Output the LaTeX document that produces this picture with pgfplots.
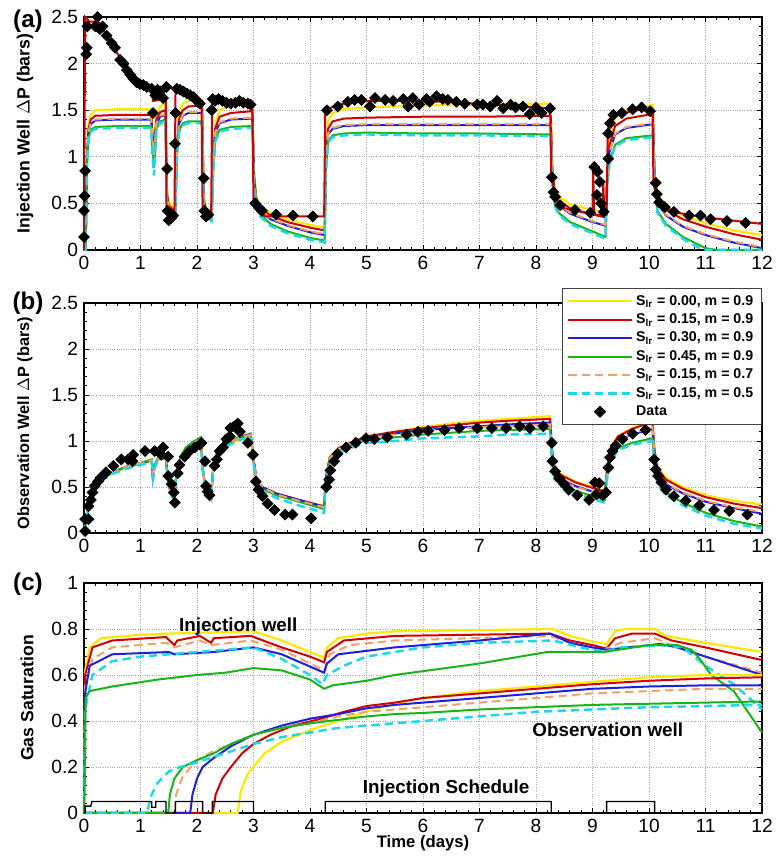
\documentclass[border=0pt]{standalone}
\usepackage{fontspec}
\setmainfont{Liberation Sans}
\usepackage{pgfplots}
\pgfplotsset{compat=1.18}
\definecolor{cY}{RGB}{255,232,0}
\definecolor{cR}{RGB}{210,0,0}
\definecolor{cB}{RGB}{30,30,225}
\definecolor{cG}{RGB}{25,180,25}
\definecolor{cO}{RGB}{245,160,100}
\definecolor{cC}{RGB}{30,215,235}
\pgfplotsset{
  myaxis/.style={
    scale only axis, width=406.8pt, anchor=south west,
    xmin=0, xmax=12, xtick={0,...,12},
    grid=major, grid style={densely dotted, gray!70, line width=0.5pt},
    minor x tick num=4, minor y tick num=4,
    tick align=inside, major tick length=3pt, minor tick length=1.8pt,
    tick style={black, line width=0.5pt},
    axis line style={black, line width=0.9pt},
    ticklabel style={font=\fontsize{11.5}{13}\selectfont},
    /pgf/number format/assume math mode=true,
    ylabel style={font=\bfseries\fontsize{10.6}{12}\selectfont, at={(axis description cs:-0.087,0.5)}, anchor=center},
    clip=false,
    legend image code/.code={\draw[mark repeat=2,mark phase=2] plot coordinates {(0pt,0pt) (19pt,0pt) (38pt,0pt)};},
  },
  sY/.style={cY, line width=1.3pt},
  sR/.style={cR, line width=1.2pt},
  sB/.style={cB, line width=1.2pt},
  sG/.style={cG, line width=1.2pt},
  sO/.style={cO, line width=1.2pt, dash pattern=on 5pt off 3pt},
  sC/.style={cC, line width=1.5pt, dash pattern=on 5pt off 3pt},
  sD/.style={only marks, mark=square*, mark size=2.3pt, mark options={rotate=45, fill=black, draw=black}},
}
\begin{document}
\begin{tikzpicture}
\useasboundingbox (0,0) rectangle (470.4pt,514.8pt);
% ---------------- (a)
\begin{axis}[myaxis, at={(50.4pt,364.8pt)}, height=139.8pt,
  ymin=0, ymax=2.5, ytick={0,0.5,...,2.5},
  ylabel={Injection Well $\Delta$P (bars)}]
\addplot[sY] coordinates {(0,0)(0.03,0)(0.05,1.0)(0.08,1.35)(0.12,1.45)(0.2,1.5)(0.6,1.51)(1.19,1.51)(1.21,1.3)(1.24,1.18)(1.28,1.45)(1.35,1.54)(1.44,1.57)(1.47,0.65)(1.5,0.52)(1.6,0.45)(1.62,0.5)(1.64,1.1)(1.68,1.45)(1.75,1.57)(1.85,1.6)(2.09,1.61)(2.12,0.6)(2.16,0.45)(2.26,0.4)(2.28,0.9)(2.32,1.35)(2.4,1.5)(2.6,1.55)(2.98,1.57)(3.01,0.85)(3.05,0.58)(3.12,0.47)(3.3,0.4)(3.6,0.33)(4.0,0.27)(4.26,0.24)(4.28,1.0)(4.32,1.38)(4.4,1.47)(4.6,1.51)(5,1.53)(6,1.55)(7,1.56)(8.26,1.57)(8.29,0.9)(8.33,0.68)(8.4,0.58)(8.6,0.49)(9.0,0.43)(9.23,0.4)(9.26,0.85)(9.3,1.2)(9.4,1.42)(9.6,1.5)(10.07,1.56)(10.1,0.85)(10.15,0.6)(10.3,0.47)(10.6,0.37)(11,0.29)(11.5,0.21)(12,0.16)};
\addplot[sR] coordinates {(0,0)(0.03,0)(0.05,0.95)(0.08,1.3)(0.12,1.4)(0.2,1.44)(0.6,1.45)(1.19,1.45)(1.21,1.25)(1.24,1.1)(1.28,1.4)(1.35,1.48)(1.44,1.5)(1.47,0.6)(1.5,0.48)(1.6,0.42)(1.62,0.45)(1.64,1.05)(1.68,1.4)(1.75,1.5)(1.85,1.54)(2.09,1.55)(2.12,0.55)(2.16,0.42)(2.26,0.37)(2.28,0.85)(2.32,1.3)(2.4,1.43)(2.6,1.47)(2.98,1.49)(3.01,0.8)(3.05,0.55)(3.12,0.45)(3.3,0.37)(3.6,0.3)(4.0,0.24)(4.26,0.21)(4.28,0.95)(4.32,1.3)(4.4,1.38)(4.6,1.41)(5,1.42)(6,1.43)(7,1.43)(8.26,1.44)(8.29,0.85)(8.33,0.63)(8.4,0.53)(8.6,0.45)(9.0,0.38)(9.23,0.35)(9.26,0.8)(9.3,1.12)(9.4,1.33)(9.6,1.41)(10.07,1.46)(10.1,0.8)(10.15,0.56)(10.3,0.43)(10.6,0.33)(11,0.25)(11.5,0.17)(12,0.11)};
\addplot[sB] coordinates {(0,0)(0.03,0)(0.05,0.92)(0.08,1.26)(0.12,1.35)(0.2,1.39)(0.6,1.4)(1.19,1.4)(1.21,1.2)(1.24,1.0)(1.28,1.35)(1.35,1.43)(1.44,1.45)(1.47,0.55)(1.5,0.45)(1.6,0.39)(1.62,0.42)(1.64,1.0)(1.68,1.35)(1.75,1.44)(1.85,1.47)(2.09,1.47)(2.12,0.5)(2.16,0.39)(2.26,0.35)(2.28,0.8)(2.32,1.25)(2.4,1.36)(2.6,1.4)(2.98,1.41)(3.01,0.75)(3.05,0.52)(3.12,0.42)(3.3,0.33)(3.6,0.26)(4.0,0.19)(4.26,0.16)(4.28,0.9)(4.32,1.24)(4.4,1.3)(4.6,1.33)(5,1.34)(6,1.34)(7,1.34)(8.26,1.34)(8.29,0.8)(8.33,0.58)(8.4,0.48)(8.6,0.39)(9.0,0.3)(9.23,0.26)(9.26,0.75)(9.3,1.05)(9.4,1.24)(9.6,1.31)(10.07,1.35)(10.1,0.75)(10.15,0.5)(10.3,0.37)(10.6,0.25)(11,0.16)(11.5,0.08)(12,0.02)};
\addplot[sG] coordinates {(0,0)(0.03,0)(0.05,0.88)(0.08,1.2)(0.12,1.29)(0.2,1.32)(0.6,1.33)(1.19,1.33)(1.21,1.1)(1.24,0.88)(1.28,1.3)(1.35,1.38)(1.44,1.4)(1.47,0.5)(1.5,0.42)(1.6,0.37)(1.62,0.4)(1.64,0.95)(1.68,1.28)(1.75,1.36)(1.85,1.38)(2.09,1.38)(2.12,0.45)(2.16,0.36)(2.26,0.32)(2.28,0.75)(2.32,1.18)(2.4,1.29)(2.6,1.32)(2.98,1.33)(3.01,0.7)(3.05,0.48)(3.12,0.38)(3.3,0.28)(3.6,0.2)(4.0,0.13)(4.26,0.1)(4.28,0.85)(4.32,1.17)(4.4,1.23)(4.6,1.25)(5,1.26)(6,1.25)(7,1.25)(8.26,1.24)(8.29,0.72)(8.33,0.5)(8.4,0.4)(8.6,0.3)(9.0,0.2)(9.23,0.14)(9.26,0.7)(9.3,0.95)(9.4,1.13)(9.6,1.2)(10.07,1.23)(10.1,0.7)(10.15,0.42)(10.3,0.28)(10.6,0.14)(11,0.02)(11.2,0)(12,0)};
\addplot[sO] coordinates {(0,0)(0.03,0)(0.05,0.93)(0.08,1.27)(0.12,1.36)(0.2,1.4)(0.6,1.41)(1.19,1.41)(1.21,1.2)(1.24,1.02)(1.28,1.36)(1.35,1.44)(1.44,1.46)(1.47,0.56)(1.5,0.46)(1.6,0.4)(1.62,0.43)(1.64,1.0)(1.68,1.36)(1.75,1.45)(1.85,1.48)(2.09,1.48)(2.12,0.51)(2.16,0.4)(2.26,0.36)(2.28,0.8)(2.32,1.26)(2.4,1.37)(2.6,1.41)(2.98,1.42)(3.01,0.76)(3.05,0.53)(3.12,0.43)(3.3,0.34)(3.6,0.27)(4.0,0.2)(4.26,0.17)(4.28,0.9)(4.32,1.25)(4.4,1.31)(4.6,1.34)(5,1.35)(6,1.35)(7,1.35)(8.26,1.35)(8.29,0.8)(8.33,0.59)(8.4,0.49)(8.6,0.4)(9.0,0.31)(9.23,0.27)(9.26,0.75)(9.3,1.05)(9.4,1.25)(9.6,1.32)(10.07,1.36)(10.1,0.75)(10.15,0.51)(10.3,0.38)(10.6,0.26)(11,0.17)(11.5,0.09)(12,0.03)};
\addplot[sC] coordinates {(0,0)(0.03,0)(0.05,0.86)(0.08,1.18)(0.12,1.27)(0.2,1.3)(0.6,1.31)(1.19,1.31)(1.21,1.05)(1.24,0.8)(1.28,1.28)(1.35,1.36)(1.44,1.38)(1.47,0.48)(1.5,0.4)(1.6,0.35)(1.62,0.38)(1.64,0.93)(1.68,1.26)(1.75,1.34)(1.85,1.36)(2.09,1.36)(2.12,0.43)(2.16,0.34)(2.26,0.31)(2.28,0.73)(2.32,1.16)(2.4,1.27)(2.6,1.3)(2.98,1.31)(3.01,0.68)(3.05,0.46)(3.12,0.36)(3.3,0.26)(3.6,0.18)(4.0,0.11)(4.26,0.08)(4.28,0.83)(4.32,1.15)(4.4,1.21)(4.6,1.23)(5,1.24)(6,1.23)(7,1.23)(8.26,1.22)(8.29,0.7)(8.33,0.48)(8.4,0.38)(8.6,0.28)(9.0,0.18)(9.23,0.12)(9.26,0.68)(9.3,0.93)(9.4,1.11)(9.6,1.18)(10.07,1.21)(10.1,0.68)(10.15,0.4)(10.3,0.26)(10.6,0.12)(10.95,0)(12,0)};
\addplot[cR, line width=1.2pt] coordinates {(0,0)(0.02,2.5)(0.1,2.45)(0.25,2.45)(0.5,2.2)(0.75,1.95)(1.0,1.8)(1.2,1.72)(1.22,1.6)(1.45,1.62)(1.46,0.4)(1.6,0.35)(1.62,1.7)(1.7,1.72)(2.0,1.6)(2.08,1.56)(2.1,0.4)(2.25,0.36)(2.27,1.6)(2.98,1.57)(3.0,0.5)(3.15,0.4)(3.2,0.36)(4.25,0.36)(4.27,1.5)(4.5,1.56)(5,1.6)(6,1.6)(7,1.57)(8,1.53)(8.25,1.52)(8.27,0.8)(8.35,0.55)(8.5,0.45)(9.0,0.38)(9.01,0.9)(9.03,0.38)(9.18,0.38)(9.19,0.75)(9.21,0.38)(9.25,0.38)(9.27,1.3)(9.4,1.45)(9.8,1.5)(10.06,1.5)(10.08,0.7)(10.2,0.48)(10.5,0.4)(11,0.35)(12,0.28)};
\addplot[sD] coordinates {(0.0,0.14)(0.0,0.42)(0.01,0.58)(0.02,0.85)(0.04,2.1)(0.05,2.17)(0.06,2.4)(0.2,2.4)(0.24,2.5)(0.28,2.37)(0.33,2.4)(0.4,2.3)(0.49,2.22)(0.55,2.17)(0.64,2.04)(0.7,2.0)(0.76,1.93)(0.82,1.88)(0.87,1.84)(0.93,1.8)(0.99,1.78)(1.05,1.77)(1.11,1.75)(1.2,1.73)(1.22,1.47)(1.26,1.66)(1.3,1.72)(1.35,1.7)(1.4,1.63)(1.46,1.75)(1.47,0.87)(1.48,0.42)(1.5,0.32)(1.54,0.34)(1.58,0.37)(1.61,1.14)(1.62,1.47)(1.64,1.73)(1.7,1.72)(1.76,1.7)(1.82,1.68)(1.88,1.66)(1.94,1.64)(2.0,1.6)(2.05,1.57)(2.12,0.77)(2.13,0.42)(2.16,0.36)(2.2,0.38)(2.26,1.5)(2.28,1.62)(2.32,1.6)(2.38,1.62)(2.45,1.6)(2.52,1.58)(2.6,1.57)(2.68,1.58)(2.75,1.6)(2.82,1.58)(2.9,1.57)(2.95,1.56)(3.03,0.5)(3.1,0.45)(3.15,0.42)(3.4,0.38)(3.7,0.37)(4.05,0.36)(4.3,1.5)(4.49,1.54)(4.67,1.59)(4.79,1.61)(4.91,1.61)(5.06,1.54)(5.15,1.63)(5.33,1.61)(5.47,1.6)(5.65,1.62)(5.74,1.54)(5.82,1.63)(5.93,1.56)(6.06,1.62)(6.12,1.59)(6.24,1.65)(6.35,1.62)(6.44,1.61)(6.59,1.59)(6.74,1.57)(6.96,1.56)(7.06,1.56)(7.19,1.54)(7.31,1.6)(7.42,1.52)(7.55,1.56)(7.64,1.53)(7.77,1.54)(7.89,1.46)(8.0,1.53)(8.1,1.47)(8.25,1.52)(8.28,0.78)(8.31,0.62)(8.34,0.57)(8.43,0.48)(8.69,0.43)(8.96,0.40)(9.03,0.89)(9.09,0.84)(9.13,0.73)(9.08,0.59)(9.15,0.5)(9.2,0.41)(9.28,0.98)(9.28,1.25)(9.31,1.36)(9.37,1.45)(9.52,1.47)(9.71,1.51)(9.87,1.53)(10.02,1.49)(10.12,0.72)(10.14,0.6)(10.18,0.51)(10.28,0.46)(10.44,0.41)(10.71,0.37)(10.91,0.37)(11.09,0.33)(11.38,0.31)(11.71,0.29)};
\end{axis}
% ---------------- (b)
\begin{axis}[myaxis, at={(50.4pt,195pt)}, height=138pt,
  ymin=0, ymax=2.5, ytick={0,0.5,...,2.5},
  ylabel={Observation Well $\Delta$P (bars)},
  ylabel style={font=\bfseries\fontsize{9.8}{11}\selectfont, at={(axis description cs:-0.087,0.478)}},
  legend style={at={(1,1.065)}, anchor=north east, draw=black!75, line width=0.6pt, fill=white,
    font=\bfseries\fontsize{8.5}{10}\selectfont, cells={anchor=west}, inner xsep=3pt, inner ysep=2pt, row sep=-0.4pt}]
\addplot[sY] coordinates {(0,0.02)(0.05,0.2)(0.1,0.34)(0.2,0.49)(0.3,0.57)(0.5,0.65)(0.75,0.71)(1.0,0.75)(1.2,0.78)(1.22,0.62)(1.25,0.72)(1.3,0.79)(1.45,0.83)(1.48,0.6)(1.52,0.48)(1.6,0.38)(1.63,0.6)(1.7,0.79)(1.8,0.88)(1.95,0.96)(2.07,1.0)(2.1,0.7)(2.15,0.5)(2.25,0.39)(2.28,0.65)(2.35,0.84)(2.5,0.93)(2.7,1.0)(2.95,1.05)(3.0,0.8)(3.05,0.6)(3.15,0.5)(3.4,0.43)(3.8,0.36)(4.25,0.29)(4.28,0.6)(4.35,0.82)(4.5,0.92)(4.75,0.99)(5.0,1.05)(5.5,1.1)(6.0,1.15)(6.5,1.19)(7.0,1.22)(7.5,1.24)(8.25,1.27)(8.28,0.95)(8.32,0.74)(8.4,0.66)(8.5,0.62)(8.7,0.56)(9.0,0.5)(9.22,0.46)(9.26,0.72)(9.32,0.92)(9.45,1.05)(9.7,1.14)(10.06,1.22)(10.1,0.9)(10.15,0.72)(10.3,0.6)(10.6,0.5)(11.0,0.41)(11.5,0.35)(12,0.31)};
\addlegendentry{S\textsubscript{lr} = 0.00, m = 0.9}
\addplot[sR] coordinates {(0,0.02)(0.05,0.2)(0.1,0.35)(0.2,0.5)(0.3,0.58)(0.5,0.66)(0.75,0.72)(1.0,0.76)(1.2,0.79)(1.22,0.58)(1.25,0.72)(1.3,0.8)(1.45,0.84)(1.48,0.6)(1.52,0.48)(1.6,0.38)(1.63,0.6)(1.7,0.8)(1.8,0.9)(1.95,0.98)(2.07,1.02)(2.1,0.7)(2.15,0.5)(2.25,0.37)(2.28,0.65)(2.35,0.85)(2.5,0.95)(2.7,1.02)(2.95,1.07)(3.0,0.8)(3.05,0.6)(3.15,0.5)(3.4,0.43)(3.8,0.36)(4.25,0.29)(4.28,0.6)(4.35,0.82)(4.5,0.92)(4.75,0.99)(5.0,1.05)(5.5,1.1)(6.0,1.14)(6.5,1.17)(7.0,1.2)(7.5,1.22)(8.25,1.24)(8.28,0.93)(8.32,0.72)(8.4,0.65)(8.5,0.61)(8.7,0.55)(9.0,0.49)(9.22,0.45)(9.26,0.72)(9.32,0.92)(9.45,1.05)(9.7,1.13)(10.06,1.21)(10.1,0.88)(10.15,0.7)(10.3,0.58)(10.6,0.48)(11.0,0.39)(11.5,0.32)(12,0.27)};
\addlegendentry{S\textsubscript{lr} = 0.15, m = 0.9}
\addplot[sB] coordinates {(0,0.02)(0.05,0.2)(0.1,0.35)(0.2,0.5)(0.3,0.58)(0.5,0.66)(0.75,0.72)(1.0,0.76)(1.2,0.79)(1.22,0.6)(1.25,0.72)(1.3,0.8)(1.45,0.84)(1.48,0.6)(1.52,0.47)(1.6,0.37)(1.63,0.6)(1.7,0.8)(1.8,0.91)(1.95,0.99)(2.07,1.03)(2.1,0.7)(2.15,0.49)(2.25,0.38)(2.28,0.66)(2.35,0.86)(2.5,0.96)(2.7,1.03)(2.95,1.08)(3.0,0.8)(3.05,0.6)(3.15,0.5)(3.4,0.43)(3.8,0.36)(4.25,0.28)(4.28,0.6)(4.35,0.81)(4.5,0.91)(4.75,0.98)(5.0,1.04)(5.5,1.08)(6.0,1.12)(6.5,1.14)(7.0,1.16)(7.5,1.18)(8.25,1.2)(8.28,0.9)(8.32,0.7)(8.4,0.62)(8.5,0.57)(8.7,0.51)(9.0,0.45)(9.22,0.41)(9.26,0.68)(9.32,0.88)(9.45,1.0)(9.7,1.07)(10.06,1.13)(10.1,0.83)(10.15,0.65)(10.3,0.53)(10.6,0.43)(11.0,0.34)(11.5,0.27)(12,0.21)};
\addlegendentry{S\textsubscript{lr} = 0.30, m = 0.9}
\addplot[sG] coordinates {(0,0.02)(0.05,0.21)(0.1,0.36)(0.2,0.5)(0.3,0.58)(0.5,0.66)(0.75,0.72)(1.0,0.76)(1.2,0.8)(1.22,0.62)(1.25,0.74)(1.3,0.81)(1.45,0.85)(1.48,0.6)(1.52,0.47)(1.6,0.37)(1.63,0.62)(1.7,0.82)(1.8,0.93)(1.95,1.0)(2.07,1.04)(2.1,0.7)(2.15,0.48)(2.25,0.38)(2.28,0.66)(2.35,0.86)(2.5,0.96)(2.7,1.03)(2.95,1.07)(3.0,0.78)(3.05,0.58)(3.15,0.48)(3.4,0.41)(3.8,0.34)(4.25,0.26)(4.28,0.58)(4.35,0.8)(4.5,0.9)(4.75,0.96)(5.0,1.01)(5.5,1.04)(6.0,1.07)(6.5,1.09)(7.0,1.11)(7.5,1.12)(8.25,1.13)(8.28,0.84)(8.32,0.64)(8.4,0.56)(8.5,0.52)(8.7,0.46)(9.0,0.4)(9.22,0.36)(9.26,0.62)(9.32,0.8)(9.45,0.92)(9.7,0.98)(10.06,1.03)(10.1,0.74)(10.15,0.56)(10.3,0.44)(10.6,0.33)(11.0,0.22)(11.5,0.13)(12,0.07)};
\addlegendentry{S\textsubscript{lr} = 0.45, m = 0.9}
\addplot[sO] coordinates {(0,0.02)(0.05,0.2)(0.1,0.35)(0.2,0.5)(0.3,0.58)(0.5,0.66)(0.75,0.72)(1.0,0.76)(1.2,0.79)(1.22,0.58)(1.25,0.72)(1.3,0.8)(1.45,0.84)(1.48,0.6)(1.52,0.47)(1.6,0.37)(1.63,0.6)(1.7,0.8)(1.8,0.9)(1.95,0.98)(2.07,1.02)(2.1,0.7)(2.15,0.49)(2.25,0.37)(2.28,0.65)(2.35,0.85)(2.5,0.95)(2.7,1.02)(2.95,1.07)(3.0,0.8)(3.05,0.6)(3.15,0.5)(3.4,0.42)(3.8,0.35)(4.25,0.28)(4.28,0.6)(4.35,0.81)(4.5,0.91)(4.75,0.98)(5.0,1.03)(5.5,1.07)(6.0,1.11)(6.5,1.13)(7.0,1.15)(7.5,1.16)(8.25,1.18)(8.28,0.88)(8.32,0.69)(8.4,0.61)(8.5,0.56)(8.7,0.5)(9.0,0.45)(9.22,0.42)(9.26,0.68)(9.32,0.88)(9.45,1.0)(9.7,1.08)(10.06,1.15)(10.1,0.84)(10.15,0.66)(10.3,0.54)(10.6,0.44)(11.0,0.35)(11.5,0.28)(12,0.23)};
\addlegendentry{S\textsubscript{lr} = 0.15, m = 0.7}
\addplot[sC] coordinates {(0,0.02)(0.05,0.19)(0.1,0.33)(0.2,0.48)(0.3,0.56)(0.5,0.64)(0.75,0.7)(1.0,0.74)(1.2,0.77)(1.22,0.6)(1.25,0.7)(1.3,0.78)(1.45,0.82)(1.48,0.58)(1.52,0.45)(1.6,0.34)(1.63,0.58)(1.7,0.78)(1.8,0.89)(1.95,0.97)(2.07,1.01)(2.1,0.68)(2.15,0.47)(2.25,0.36)(2.28,0.63)(2.35,0.83)(2.5,0.93)(2.7,1.0)(2.95,1.05)(3.0,0.76)(3.05,0.56)(3.15,0.46)(3.4,0.38)(3.8,0.3)(4.25,0.22)(4.28,0.55)(4.35,0.77)(4.5,0.87)(4.75,0.93)(5.0,0.98)(5.5,1.0)(6.0,1.03)(6.5,1.04)(7.0,1.05)(7.5,1.07)(8.25,1.08)(8.28,0.8)(8.32,0.6)(8.4,0.53)(8.5,0.49)(8.7,0.43)(9.0,0.37)(9.22,0.33)(9.26,0.6)(9.32,0.78)(9.45,0.9)(9.7,0.96)(10.06,1.0)(10.1,0.71)(10.15,0.53)(10.3,0.41)(10.6,0.3)(11.0,0.19)(11.5,0.1)(12,0.05)};
\addlegendentry{S\textsubscript{lr} = 0.15, m = 0.5}
\addplot[sD] coordinates {(0.02,0.02)(0.02,0.15)(0.08,0.15)(0.08,0.29)(0.12,0.36)(0.15,0.44)(0.19,0.51)(0.25,0.56)(0.29,0.6)(0.39,0.66)(0.52,0.73)(0.66,0.8)(0.78,0.8)(0.87,0.85)(0.86,0.78)(1.08,0.89)(1.25,0.89)(1.4,0.93)(1.37,0.85)(1.49,0.83)(1.49,0.62)(1.55,0.53)(1.59,0.44)(1.61,0.33)(1.66,0.65)(1.69,0.74)(1.78,0.83)(1.87,0.89)(1.96,0.93)(2.05,0.96)(2.08,0.98)(2.14,0.78)(2.16,0.51)(2.19,0.45)(2.22,0.41)(2.31,0.73)(2.35,0.8)(2.4,0.89)(2.46,0.93)(2.52,1.02)(2.58,1.05)(2.59,1.14)(2.66,1.16)(2.72,1.19)(2.76,1.1)(2.9,0.98)(2.99,0.85)(3.04,0.56)(3.09,0.47)(3.16,0.4)(3.25,0.32)(3.37,0.25)(3.56,0.2)(3.69,0.2)(4.02,0.16)(4.29,0.5)(4.34,0.58)(4.36,0.68)(4.43,0.78)(4.49,0.86)(4.64,0.93)(4.81,0.98)(4.99,1.03)(5.14,1.02)(5.37,1.04)(5.71,1.07)(5.91,1.1)(6.09,1.11)(6.38,1.12)(6.64,1.14)(6.96,1.14)(7.22,1.14)(7.47,1.14)(7.71,1.16)(7.89,1.14)(8.13,1.16)(8.28,0.98)(8.29,0.78)(8.34,0.67)(8.41,0.59)(8.5,0.53)(8.58,0.47)(8.73,0.41)(8.94,0.36)(9.04,0.55)(9.12,0.54)(9.07,0.42)(9.18,0.41)(9.24,0.44)(9.28,0.71)(9.31,0.82)(9.35,0.89)(9.41,0.95)(9.53,1.02)(9.71,1.08)(9.94,1.12)(10.09,0.8)(10.12,0.69)(10.16,0.62)(10.22,0.55)(10.3,0.47)(10.44,0.4)(10.65,0.35)(10.89,0.3)(11.15,0.25)(11.42,0.24)(11.74,0.2)};
\addlegendentry{Data}
\end{axis}
% ---------------- (c)
\begin{axis}[myaxis, at={(50.4pt,27pt)}, height=138pt,
  ymin=0, ymax=1, ytick={0,0.2,...,1},
  ylabel={Gas Saturation},
  ylabel style={at={(axis description cs:-0.084,0.5)}},
  xlabel={Time (days)},
  xlabel style={font=\bfseries\fontsize{10}{11}\selectfont, at={(axis description cs:0.5,-0.13)}, anchor=center}]
% injection well
\addplot[sY] coordinates {(0,0)(0.02,0.62)(0.1,0.72)(0.3,0.76)(1.0,0.775)(1.5,0.78)(3.0,0.79)(3.5,0.75)(4.0,0.7)(4.25,0.675)(4.3,0.72)(4.5,0.76)(5,0.78)(5.5,0.79)(8.3,0.8)(8.6,0.77)(9.0,0.745)(9.25,0.735)(9.4,0.79)(9.6,0.8)(10.1,0.8)(10.3,0.77)(11,0.74)(12,0.7)};
\addplot[sR] coordinates {(0,0)(0.02,0.6)(0.15,0.72)(0.5,0.75)(1.45,0.765)(1.6,0.73)(1.65,0.75)(2.05,0.77)(2.25,0.74)(2.3,0.76)(2.95,0.77)(3.5,0.72)(4.0,0.68)(4.25,0.655)(4.3,0.7)(4.6,0.75)(5.5,0.77)(8.25,0.78)(8.6,0.75)(9.0,0.73)(9.25,0.715)(9.4,0.76)(9.7,0.78)(10.1,0.78)(10.4,0.75)(11,0.72)(12,0.665)};
\addplot[sO] coordinates {(0,0)(0.02,0.55)(0.15,0.67)(0.5,0.72)(1.45,0.74)(1.6,0.72)(2.05,0.75)(2.25,0.73)(2.95,0.75)(3.5,0.71)(4.25,0.62)(4.35,0.69)(4.7,0.73)(5.5,0.75)(8.25,0.77)(8.6,0.74)(9.2,0.71)(9.5,0.74)(10.1,0.76)(10.4,0.73)(11,0.68)(12,0.61)};
\addplot[sB] coordinates {(0,0)(0.02,0.52)(0.1,0.64)(0.5,0.69)(1.5,0.7)(1.6,0.69)(2.3,0.7)(3.0,0.72)(3.5,0.69)(4.25,0.61)(4.3,0.65)(4.5,0.69)(5.5,0.72)(7,0.75)(8.25,0.78)(8.6,0.74)(9.0,0.72)(9.25,0.71)(10.2,0.735)(10.5,0.72)(11,0.68)(12,0.6)};
\addplot[sC] coordinates {(0,0)(0.02,0.45)(0.15,0.6)(0.5,0.66)(1.0,0.68)(2.0,0.7)(3.0,0.72)(3.5,0.67)(4.0,0.6)(4.22,0.56)(4.3,0.6)(4.6,0.64)(5,0.68)(6,0.72)(7,0.74)(8.3,0.75)(8.8,0.72)(9.2,0.7)(9.5,0.72)(10.2,0.73)(10.6,0.72)(11.0,0.64)(11.5,0.56)(12,0.45)};
\addplot[sG] coordinates {(0,0)(0.03,0.5)(0.1,0.53)(0.5,0.55)(1.3,0.58)(2.0,0.6)(2.5,0.61)(3.0,0.63)(3.5,0.62)(4.0,0.58)(4.25,0.54)(4.4,0.555)(5,0.575)(5.5,0.6)(7,0.65)(8.2,0.7)(9.2,0.7)(10.0,0.73)(10.5,0.73)(10.75,0.71)(10.9,0.67)(11.1,0.6)(11.5,0.53)(12,0.35)};
% observation well
\addplot[sY] coordinates {(0,0)(2.72,0)(2.78,0.1)(2.9,0.17)(3.0,0.2)(3.2,0.26)(3.5,0.31)(4.0,0.36)(4.5,0.4)(5,0.44)(5.5,0.475)(6,0.5)(7,0.53)(8,0.55)(9,0.57)(10,0.59)(11,0.6)(12,0.6)};
\addplot[sR] coordinates {(0,0)(2.28,0)(2.33,0.08)(2.45,0.15)(2.6,0.2)(2.8,0.26)(3.0,0.3)(3.3,0.34)(3.7,0.38)(4.2,0.41)(4.6,0.44)(5.0,0.465)(5.5,0.48)(6,0.5)(7,0.52)(8,0.54)(9,0.56)(10,0.575)(11,0.585)(12,0.59)};
\addplot[sB] coordinates {(0,0)(1.88,0)(1.92,0.08)(2.0,0.15)(2.1,0.2)(2.3,0.24)(2.6,0.29)(3.0,0.34)(3.5,0.38)(4.0,0.41)(4.5,0.43)(5.0,0.455)(5.5,0.47)(6,0.48)(7,0.5)(8,0.52)(9,0.54)(10,0.55)(11,0.555)(12,0.555)};
\addplot[sO] coordinates {(0,0)(1.6,0)(1.63,0.08)(1.75,0.16)(2.0,0.23)(2.3,0.27)(2.6,0.3)(3.0,0.34)(3.5,0.37)(4.0,0.39)(4.5,0.42)(5,0.44)(5.5,0.45)(6,0.46)(7,0.48)(8,0.5)(9,0.52)(10,0.53)(11,0.54)(12,0.54)};
\addplot[sG] coordinates {(0,0)(1.49,0)(1.52,0.08)(1.6,0.15)(1.75,0.2)(2.0,0.23)(2.3,0.26)(2.6,0.3)(3.0,0.34)(3.5,0.37)(4.0,0.39)(4.5,0.405)(5,0.42)(5.5,0.43)(6,0.435)(7,0.45)(8,0.46)(9,0.47)(10,0.475)(11,0.48)(12,0.485)};
\addplot[sC] coordinates {(0,0)(1.12,0)(1.18,0.07)(1.3,0.13)(1.5,0.18)(1.7,0.2)(2.0,0.22)(2.5,0.26)(3.0,0.3)(3.5,0.33)(4.0,0.35)(4.5,0.37)(5,0.38)(5.5,0.39)(6,0.4)(7,0.42)(8,0.44)(9,0.45)(10,0.46)(11,0.465)(12,0.47)};
% injection schedule
\addplot[black, line width=0.8pt] coordinates {(0,0)(0.02,0)(0.02,0.03)(0.12,0.03)(0.14,0.05)(1.2,0.05)(1.2,0.025)(1.27,0.025)(1.27,0.05)(1.45,0.05)(1.45,0)(1.62,0)(1.62,0.05)(2.1,0.05)(2.1,0)(2.27,0)(2.27,0.05)(3.0,0.05)(3.0,0)(4.27,0)(4.27,0.05)(8.27,0.05)(8.27,0)(9.25,0)(9.25,0.05)(10.1,0.05)(10.1,0)(12,0)};
\node[font=\bfseries\fontsize{11.3}{13}\selectfont] at (axis cs:2.73,0.81) {Injection well};
\node[font=\bfseries\fontsize{11.3}{13}\selectfont] at (axis cs:9.27,0.36) {Observation well};
\node[font=\bfseries\fontsize{11.3}{13}\selectfont] at (axis cs:6.41,0.104) {Injection Schedule};
\end{axis}
\node[font=\bfseries\fontsize{14.5}{16}\selectfont] at (16.8pt,502.2pt) {(a)};
\node[font=\bfseries\fontsize{14.5}{16}\selectfont] at (16.8pt,333pt) {(b)};
\node[font=\bfseries\fontsize{14.5}{16}\selectfont] at (16.8pt,164.4pt) {(c)};
\end{tikzpicture}
\end{document}
